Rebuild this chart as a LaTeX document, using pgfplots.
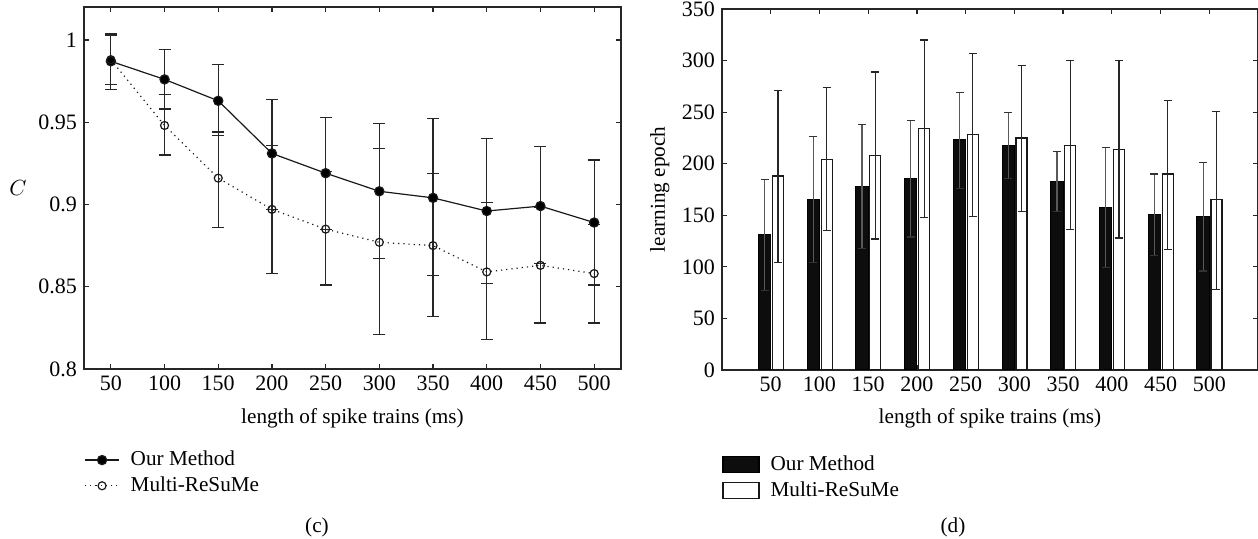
\documentclass[border=0pt]{standalone}
\usepackage{fontspec}
\setmainfont{Liberation Serif}
\usepackage{pgfplots}
\pgfplotsset{compat=1.18}

\begin{document}
\begin{tikzpicture}
\useasboundingbox (0pt,0pt) rectangle (629pt,-269.5pt);
\pgfplotsset{
  common/.style={
    scale only axis,
    font=\fontsize{10.6}{12.5}\selectfont,
    tick label style={font=\fontsize{11}{13}\selectfont},
    /pgf/number format/assume math mode=true,
    tick align=inside,
    major tick length=2.5pt,
    axis line style={line width=0.6pt, black!85},
    every tick/.style={line width=0.6pt, black!85},
    xtick={50,100,150,200,250,300,350,400,450,500},
    legend cell align=left,
  },
}
% ---------------- (c) -----------------
\begin{axis}[common,
  at={(42pt,-3.5pt)}, anchor=north west,
  width=268.5pt, height=181pt,
  xmin=25, xmax=525, ymin=0.8, ymax=1.02,
  ytick={0.8,0.85,0.9,0.95,1},
  xlabel={length of spike trains (ms)},
  xlabel style={at={(axis description cs:0.5,-0.135)}, anchor=center},
  ylabel={$C$},
  ylabel style={rotate=-90, at={(axis description cs:-0.123,0.5)}, anchor=center},
  legend style={at={(axis description cs:0,-0.215)}, anchor=north west,
    draw=none, fill=none, inner sep=0pt, row sep=0pt, column sep=3.5pt,
    font=\fontsize{10.6}{12.5}\selectfont},
]
\addplot[black!90, line width=0.6pt, mark=*, mark size=2.3pt,
  mark options={solid, fill=black},
  error bars/.cd, y dir=both, y explicit,
  error bar style={line width=0.6pt, solid, black!85},
  error mark options={rotate=90, mark size=3pt, line width=0.6pt, black!85}]
coordinates {
(50,0.987) += (0,0.017) -= (0,0.017)
(100,0.976) += (0,0.018) -= (0,0.018)
(150,0.963) += (0,0.022) -= (0,0.021)
(200,0.931) += (0,0.033) -= (0,0.034)
(250,0.919) += (0,0.034) -= (0,0.034)
(300,0.908) += (0,0.041) -= (0,0.041)
(350,0.904) += (0,0.048) -= (0,0.047)
(400,0.896) += (0,0.044) -= (0,0.044)
(450,0.899) += (0,0.036) -= (0,0.035)
(500,0.889) += (0,0.038) -= (0,0.038)
};
\addlegendentry{Our Method}
\addplot[black!90, line width=0.6pt, dotted, mark=o, mark size=2pt,
  mark options={solid, fill=white},
  error bars/.cd, y dir=both, y explicit,
  error bar style={line width=0.6pt, solid, black!85},
  error mark options={rotate=90, mark size=3pt, line width=0.6pt, solid, black!85}]
coordinates {
(50,0.988) += (0,0.015) -= (0,0.015)
(100,0.948) += (0,0.019) -= (0,0.018)
(150,0.916) += (0,0.028) -= (0,0.030)
(200,0.897) += (0,0.039) -= (0,0.039)
(250,0.885) += (0,0.035) -= (0,0.034)
(300,0.877) += (0,0.057) -= (0,0.056)
(350,0.875) += (0,0.044) -= (0,0.043)
(400,0.859) += (0,0.042) -= (0,0.041)
(450,0.863) += (0,0.035) -= (0,0.035)
(500,0.858) += (0,0.030) -= (0,0.030)
};
\addlegendentry{Multi-ReSuMe}
\end{axis}

% ---------------- (d) -----------------
\begin{axis}[common,
  at={(361pt,-4.5pt)}, anchor=north west,
  width=268pt, height=180.5pt,
  xmin=0, xmax=550, ymin=0, ymax=350,
  ytick={0,50,100,150,200,250,300,350},
  xlabel={length of spike trains (ms)},
  xlabel style={at={(axis description cs:0.5,-0.133)}, anchor=center},
  ylabel={learning epoch},
  ylabel style={at={(axis description cs:-0.116,0.5)}, anchor=center},
  legend style={at={(axis description cs:0,-0.225)}, anchor=north west,
    draw=none, fill=none, inner sep=0pt, row sep=0pt, column sep=3.5pt,
    font=\fontsize{10.6}{12.5}\selectfont},
  legend image code/.code={\draw[#1, line width=0.6pt] (0pt,-4pt) rectangle (18pt,4pt);},
]
\addplot[ybar, bar width=6.15pt, bar shift=0pt, fill=black!95, draw=black,
  line width=0.5pt, x filter/.expression={x-6.3},
  error bars/.cd, y dir=both, y explicit,
  error bar style={line width=0.6pt, black!65},
  error mark options={rotate=90, mark size=2pt, line width=0.6pt, black!80}]
coordinates {
(50,131) += (0,54) -= (0,54)
(100,165) += (0,61) -= (0,61)
(150,178) += (0,60) -= (0,60)
(200,186) += (0,56) -= (0,57)
(250,223) += (0,46) -= (0,47)
(300,218) += (0,32) -= (0,32)
(350,183) += (0,29) -= (0,29)
(400,158) += (0,58) -= (0,59)
(450,151) += (0,39) -= (0,40)
(500,149) += (0,52) -= (0,53)
};
\addlegendentry{Our Method}
\addplot[ybar, bar width=5.5pt, bar shift=0pt, fill=white, draw=black!90,
  line width=0.6pt, x filter/.expression={x+7.4},
  error bars/.cd, y dir=both, y explicit,
  error bar style={line width=0.6pt, black!85},
  error mark options={rotate=90, mark size=2pt, line width=0.6pt, black!85}]
coordinates {
(50,188) += (0,83) -= (0,84)
(100,204) += (0,70) -= (0,69)
(150,208) += (0,81) -= (0,81)
(200,234) += (0,86) -= (0,86)
(250,228) += (0,79) -= (0,79)
(300,225) += (0,70) -= (0,71)
(350,218) += (0,82) -= (0,82)
(400,214) += (0,86) -= (0,86)
(450,190) += (0,71) -= (0,73)
(500,165) += (0,86) -= (0,87)
};
\addlegendentry{Multi-ReSuMe}
\end{axis}

\node[font=\fontsize{10.6}{12.5}\selectfont] at (158.5pt,-263.5pt) {(c)};
\node[font=\fontsize{10.6}{12.5}\selectfont] at (476.5pt,-263.5pt) {(d)};
\end{tikzpicture}
\end{document}
